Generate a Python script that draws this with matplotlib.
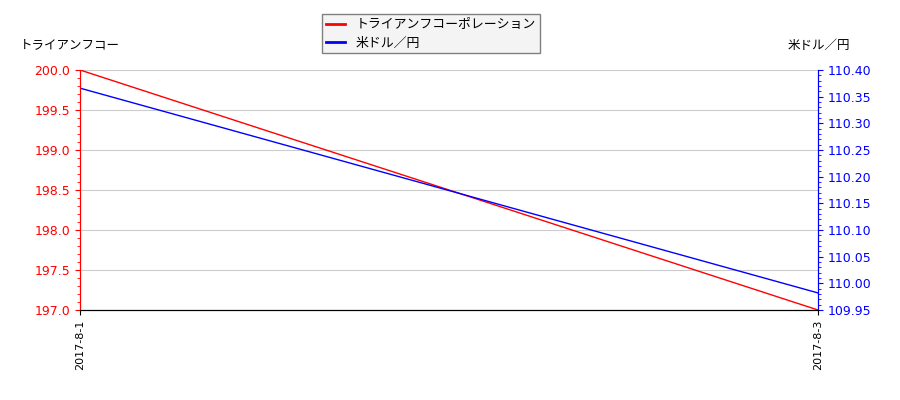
import matplotlib
matplotlib.use('Agg')
import matplotlib.pyplot as plt
from matplotlib.ticker import MultipleLocator, FormatStrFormatter

plt.rcParams['font.family'] = ['Noto Sans CJK JP', 'DejaVu Sans']

dates = ['2017-8-1', '2017-8-3']
stock_name = 'トライアンフコーポレーション'
stock_values = [200.0, 197.0]
fx_name = '米ドル／円'
fx_values = [110.366, 109.982]

fig = plt.figure(figsize=(9, 4), dpi=100)
ax = fig.add_axes([80 / 900, 90 / 400, 738 / 900, 240 / 400])
ax2 = ax.twinx()

x = list(range(len(dates)))
l1, = ax.plot(x, stock_values, color='red', lw=1, label=stock_name)
l2, = ax2.plot(x, fx_values, color='blue', lw=1, label=fx_name)

ax.set_xlim(0, 1)
ax.set_xticks(x)
ax.set_xticklabels(dates, rotation=90, fontsize=8, family='DejaVu Sans')

ax.set_ylim(197.0, 200.0)
ax.yaxis.set_major_locator(MultipleLocator(0.5))
ax.yaxis.set_minor_locator(MultipleLocator(0.1))
ax.yaxis.set_major_formatter(FormatStrFormatter('%.1f'))
ax.tick_params(axis='y', which='both', colors='red', labelsize=9)
ax.grid(axis='y', color='#cccccc', lw=0.8)
ax.set_axisbelow(True)

ax2.set_ylim(109.95, 110.40)
ax2.yaxis.set_major_locator(MultipleLocator(0.05))
ax2.yaxis.set_minor_locator(MultipleLocator(0.01))
ax2.yaxis.set_major_formatter(FormatStrFormatter('%.2f'))
ax2.tick_params(axis='y', which='both', colors='blue', labelsize=9)

for a in (ax, ax2):
    a.spines['top'].set_visible(False)
    a.spines['left'].set_color('red')
    a.spines['right'].set_color('blue')
    a.spines['bottom'].set_color('black')

for lbl in ax.get_yticklabels() + ax2.get_yticklabels():
    lbl.set_family('DejaVu Sans')

fig.text(20 / 900, 1 - 45 / 400, 'トライアンフコー', fontsize=9, va='center', ha='left')
fig.text(850 / 900, 1 - 45 / 400, fx_name, fontsize=9, va='center', ha='right')

leg = fig.legend(handles=[l1, l2], loc='upper center', bbox_to_anchor=(431 / 900, 1 - 8 / 400),
                 fontsize=9.3, frameon=True, fancybox=False, edgecolor='gray',
                 facecolor='#f4f4f4', borderpad=0.3, labelspacing=0.4, handlelength=1.5)
leg.get_frame().set_alpha(1)
for h in leg.legend_handles:
    h.set_linewidth(2)

fig.savefig('out.png', dpi=100)
